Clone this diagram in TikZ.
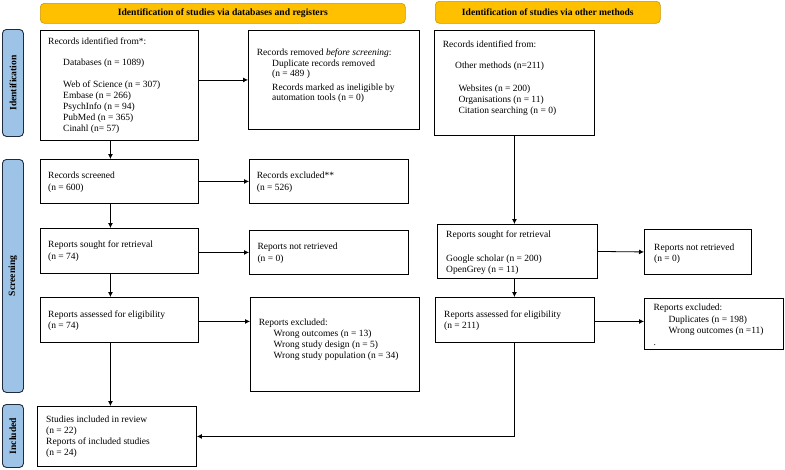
\documentclass[tikz,border=0pt]{standalone}
\usepackage{fontspec}
\setmainfont{Liberation Serif}
\usetikzlibrary{arrows.meta}
\definecolor{hdrfill}{HTML}{FFC000}
\definecolor{hdrdraw}{HTML}{C99700}
\definecolor{sidefill}{HTML}{9DC3E6}
\definecolor{sidedraw}{HTML}{1F2A3C}
\tikzset{
  box/.style={draw=black, line width=0.9pt, inner sep=0pt, anchor=north west},
  hdr/.style={draw=hdrdraw, line width=0.6pt, fill=hdrfill, rounded corners=4pt, inner sep=0pt, anchor=north west},
  hdrtxt/.style={font=\fontsize{9.65}{11}\selectfont\bfseries, inner sep=0pt},
  side/.style={draw=sidedraw, line width=0.9pt, fill=sidefill, rounded corners=4pt, inner sep=0pt, anchor=north west},
  sidetxt/.style={rotate=90, font=\fontsize{9.6}{11}\selectfont\bfseries, inner sep=0pt},
  txt/.style={anchor=north west, inner sep=0pt, align=left, font=\fontsize{9.5}{11}\selectfont},
  arr/.style={-{Latex[length=5pt,width=5pt]}, line width=0.8pt, draw=black}
}
\newcommand{\ind}[1]{\hspace*{#1pt}}
\begin{document}
\begin{tikzpicture}[x=1pt,y=-1pt]
\useasboundingbox (0,0) rectangle (785,469);
% headers
\node[hdr, minimum width=365pt, minimum height=20pt] (h1) at (40,3) {};
\node[hdrtxt] (h1t) at (h1.center) {Identification of studies via databases and registers};
\node[hdr, minimum width=225pt, minimum height=22pt] (h2) at (435,1) {};
\node[hdrtxt, font=\fontsize{9.55}{11}\selectfont\bfseries] (h2t) at (h2.center) {Identification of studies via other methods};
% side labels
\node[side, minimum width=21pt, minimum height=107pt] (s1) at (2,29) {};
\node[sidetxt] (s1t) at (s1.center) {Identification};
\node[side, minimum width=21pt, minimum height=233pt] (s2) at (2,159) {};
\node[sidetxt] (s2t) at (s2.center) {Screening};
\node[side, minimum width=21pt, minimum height=63pt] (s3) at (2,404) {};
\node[sidetxt] (s3t) at (s3.center) {Included};
% boxes
\node[box, minimum width=158pt, minimum height=110pt] (A) at (40,30) {};
\node[box, minimum width=171pt, minimum height=99pt] (B) at (248,30) {};
\node[box, minimum width=158pt, minimum height=44pt] (C) at (40,159) {};
\node[box, minimum width=159pt, minimum height=44pt] (D) at (249,159) {};
\node[box, minimum width=158pt, minimum height=45pt] (E) at (40,228) {};
\node[box, minimum width=159pt, minimum height=44pt] (F) at (249,230) {};
\node[box, minimum width=158pt, minimum height=45pt] (G) at (40,297) {};
\node[box, minimum width=169pt, minimum height=94pt] (H) at (250,297) {};
\node[box, minimum width=159pt, minimum height=60pt] (I) at (37,406) {};
\node[box, minimum width=160pt, minimum height=105pt] (J) at (434,30) {};
\node[box, minimum width=160pt, minimum height=54pt] (K) at (437,224) {};
\node[box, minimum width=107pt, minimum height=45pt] (L) at (644,229) {};
\node[box, minimum width=159pt, minimum height=45pt] (M) at (435,297) {};
\node[box, minimum width=139pt, minimum height=51pt] (N) at (644,298) {};
% texts
\node[txt] (At) at (48,37.7) {Records identified from*:\\[9.6pt]\ind{15}Databases (n = 1089)\\[11pt]\ind{15}Web of Science (n = 307)\\\ind{15}Embase (n = 266)\\\ind{15}PsychInfo (n = 94)\\\ind{15}PubMed (n = 365)\\\ind{15}Cinahl (n= 57)};
\node[txt, font=\fontsize{9.5}{10.5}\selectfont] (Bt) at (256.7,48.7) {Records removed \textit{before screening}:\\\ind{15.3}Duplicate records removed\\\ind{15.3}(n = 489 )\\[3pt]\ind{15.3}Records marked as ineligible by\\\ind{15.3}automation tools (n = 0)};
\node[txt] (Ct) at (48,171.7) {Records screened\\[1pt](n = 600)};
\node[txt] (Dt) at (256.7,171.7) {Records excluded**\\[1pt](n = 526)};
\node[txt] (Et) at (48,241) {Reports sought for retrieval\\[0.7pt](n = 74)};
\node[txt] (Ft) at (257.3,242.7) {Reports not retrieved\\[0.6pt](n = 0)};
\node[txt] (Gt) at (48,311) {Reports assessed for eligibility\\(n = 74)};
\node[txt] (Ht) at (258.7,318.7) {Reports excluded:\\\ind{14.7}Wrong outcomes (n = 13)\\\ind{14.7}Wrong study design (n = 5)\\\ind{14.7}Wrong study population (n = 34)};
\node[txt] (It) at (46,415.3) {Studies included in review\\(n = 22)\\Reports of included studies\\[0.5pt](n = 24)};
\node[txt] (Jt) at (442.7,40.3) {Records identified from:\\[10.7pt]\ind{12.3}Other methods (n=211)\\[11.3pt]\ind{15.6}Websites (n = 200)\\\ind{15.6}Organisations (n = 11)\\\ind{15.6}Citation searching (n = 0)};
\node[txt] (Kt) at (446,231) {Reports sought for retrieval\\[12.3pt]Google scholar (n = 200)\\OpenGrey (n = 11)};
\node[txt] (Lt) at (654,243.3) {Reports not retrieved\\(n = 0)};
\node[txt] (Mt) at (444,311) {Reports assessed for eligibility\\(n = 211)};
\node[txt] (Nt) at (653.3,303.3) {Reports excluded:\\[1pt]\ind{15}Duplicates (n = 198)\\[0.7pt]\ind{15}Wrong outcomes (n =11)\\[0.3pt].};
% arrows
\draw[arr] (A.east |- B.west) -- (B.west);
\draw[arr] ([xshift=-9pt]A.south) -- ([xshift=-9pt]C.north);
\draw[arr] (C.east) -- (D.west);
\draw[arr] ([xshift=-9pt]C.south) -- ([xshift=-9pt]E.north);
\draw[arr] (E.east |- F.west) -- (F.west);
\draw[arr] ([xshift=-9pt]E.south) -- ([xshift=-9pt]G.north);
\draw[arr] ([yshift=-1.5pt]G.east) -- ([yshift=-1.5pt]G.east -| H.west);
\draw[arr] ([xshift=-9pt]G.south) -- ([xshift=-9pt]G.south |- I.north);
\draw[arr] (J.south) -- (J.south |- K.north);
\draw[arr] (K.east) -- (L.west);
\draw[arr] (K.south -| J.south) -- (M.north -| J.south);
\draw[arr] ([yshift=-1.5pt]M.east) -- ([yshift=-1.5pt]M.east -| N.west);
\draw[arr] (M.south -| J.south) |- (I.east);
\end{tikzpicture}
\end{document}
